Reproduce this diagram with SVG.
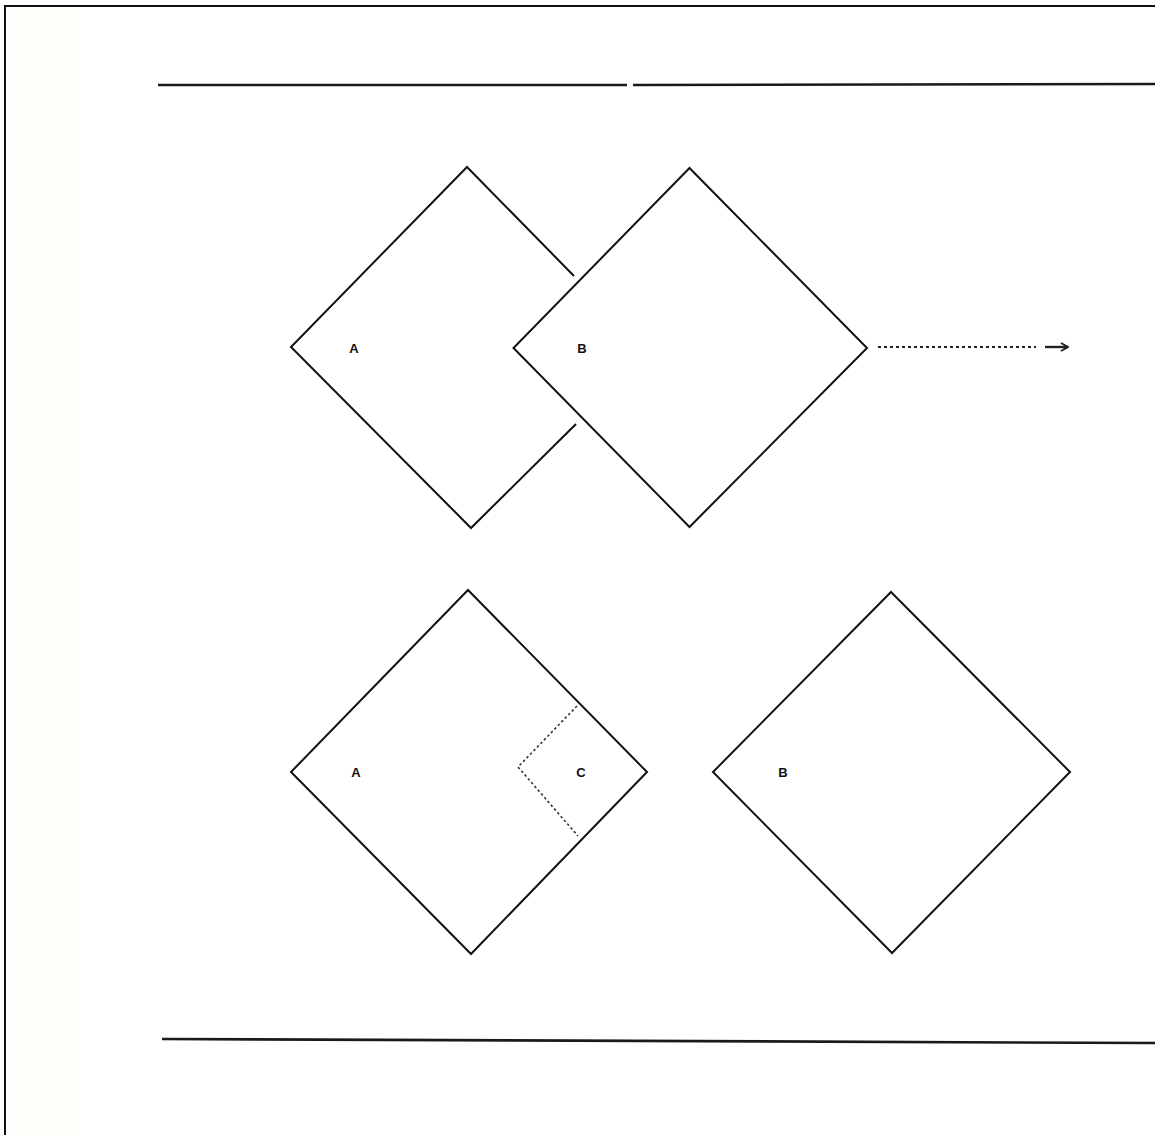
<svg xmlns="http://www.w3.org/2000/svg" width="1155" height="1135" viewBox="0 0 1155 1135">
  <style>
    .edge { fill: none; stroke: #111; stroke-width: 2; stroke-linejoin: miter; }
    .rule { fill: none; stroke: #1a1a1a; stroke-width: 2.6; }
    .dot { fill: none; stroke: #333; stroke-width: 1.6; stroke-dasharray: 2.5 2.5; }
    .dot2 { fill: none; stroke: #222; stroke-width: 2; stroke-dasharray: 3 3; }
    .lbl { font-family: "Liberation Sans", Arial, sans-serif; font-weight: bold; font-size: 13px; fill: #111; text-anchor: middle; dominant-baseline: central; }
  </style>
  <defs>
    <marker id="arrow" viewBox="0 0 10 10" refX="9" refY="5" markerWidth="10" markerHeight="10" markerUnits="userSpaceOnUse" orient="auto">
      <path d="M2,1 L9,5 L2,9" fill="none" stroke="#222" stroke-width="2"/>
    </marker>
  </defs>
  <rect width="1155" height="1135" fill="#ffffff"/>
  <rect x="8" y="8" width="70" height="1127" fill="#fffefa"/>
  <polyline points="5,1135 5,6 1155,6" fill="none" stroke="#111" stroke-width="2"/>

  <g id="rules">
    <line class="rule" x1="158" y1="85" x2="627" y2="85"/>
    <line class="rule" x1="633" y1="85" x2="1155" y2="84"/>
    <line class="rule" x1="162" y1="1039" x2="1155" y2="1043"/>
  </g>

  <g id="top-A">
    <polyline class="edge" points="574,276 467,167 291,347 471,528 576,424"/>
    <text class="lbl" x="354" y="348">A</text>
  </g>
  <g id="top-B">
    <polygon class="edge" points="689.5,168 867,348 689.5,527 513.5,348"/>
    <text class="lbl" x="582" y="348">B</text>
  </g>

  <g id="bottom-A">
    <polygon class="edge" points="468,590 647,772 471,954 291,772"/>
    <text class="lbl" x="356" y="772">A</text>
  </g>
  <g id="bottom-C">
    <polyline class="dot" points="577,706 518,767 578,836"/>
    <text class="lbl" x="581" y="772">C</text>
  </g>
  <g id="bottom-B">
    <polygon class="edge" points="891,592 1070,772 892,953 713,772"/>
    <text class="lbl" x="783" y="772">B</text>
  </g>

  <g id="connectors">
    <line class="dot2" x1="878" y1="347" x2="1036" y2="347"/>
    <line x1="1045" y1="347" x2="1068" y2="347" stroke="#222" stroke-width="2.4" marker-end="url(#arrow)"/>
  </g>
</svg>
